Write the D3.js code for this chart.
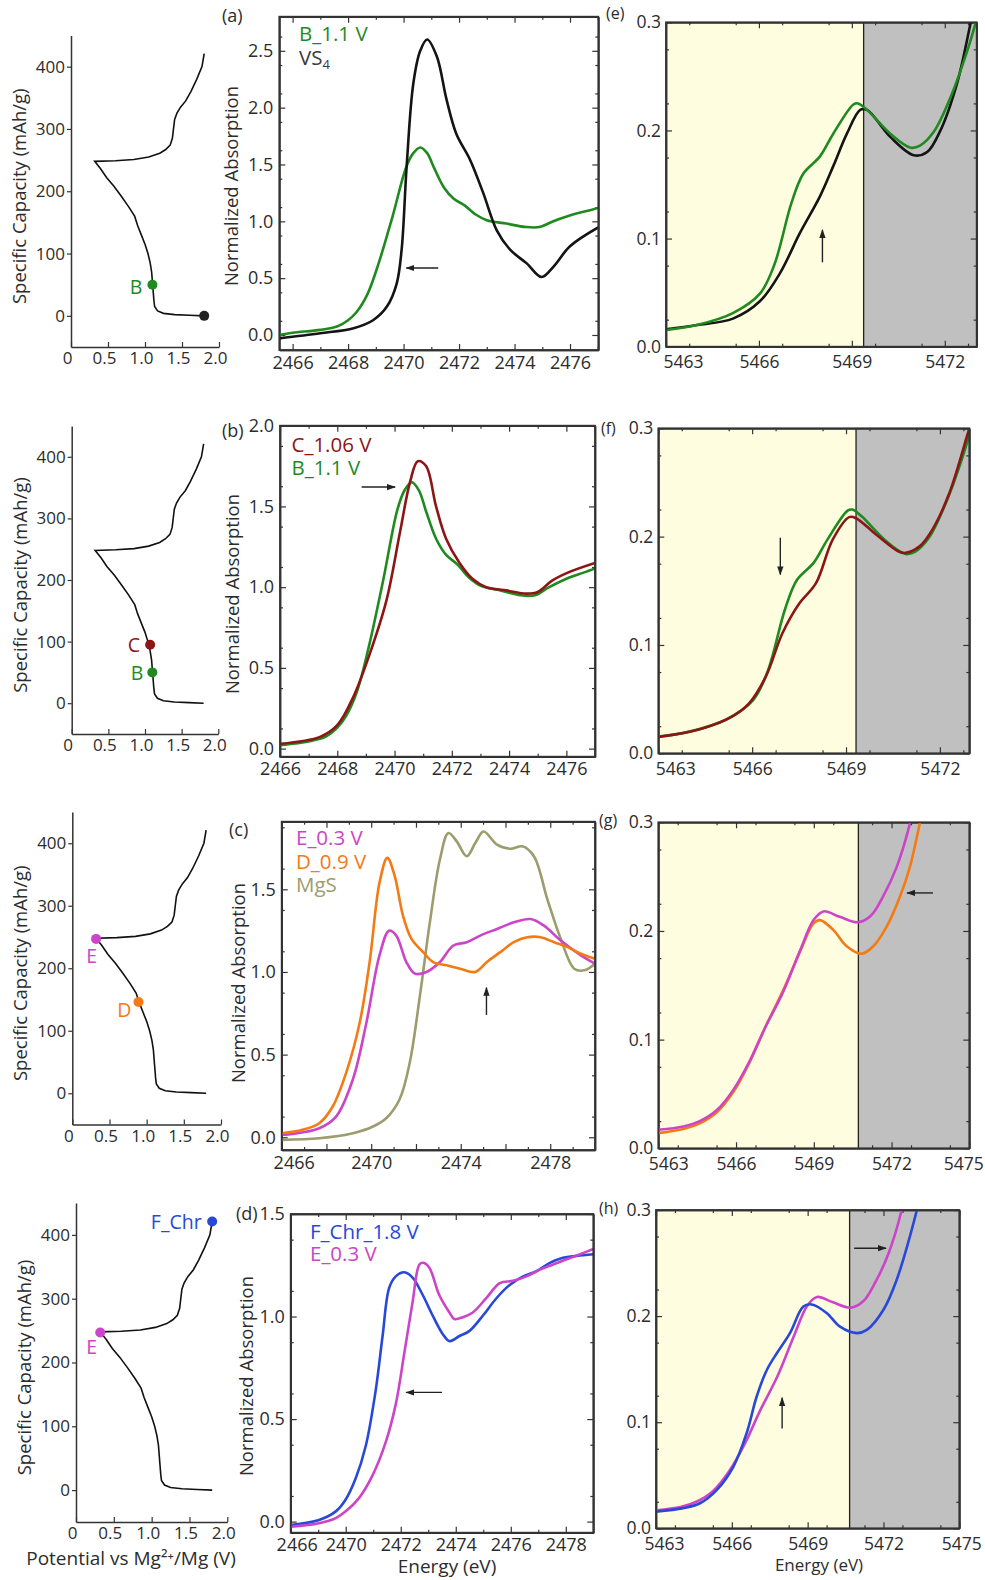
<!DOCTYPE html>
<html lang="en">
<head>
<meta charset="UTF-8">
<title>VS4 S K-edge and V K-edge XANES</title>
<script src="https://d3js.org/d3.v7.min.js"></script>
<style>
  body { margin: 0; background: #fff; }
  text { font-family: "Open Sans", "DejaVu Sans", sans-serif; }
</style>
</head>
<body>
<div id="chart"></div>
<script>
// ---------- data ----------
// discharge / charge cycle (potential V, capacity mAh/g)
const cyclePotential = [1.80, 1.60, 1.40, 1.25, 1.17, 1.13, 1.12, 1.11, 1.10, 1.09, 1.07, 1.04, 1.00, 0.95, 0.90, 0.86, 0.78, 0.68, 0.58, 0.48, 0.40, 0.32,
  0.60, 0.85, 1.05, 1.20, 1.28, 1.34, 1.37, 1.385, 1.40, 1.43, 1.48, 1.55, 1.62, 1.70, 1.77, 1.80];
const cycleCapacity = [0, 1, 2, 4, 8, 15, 25, 40, 55, 70, 85, 100, 115, 130, 145, 160, 175, 192, 208, 222, 236, 248,
  249, 251, 255, 261, 267, 274, 285, 300, 315, 325, 335, 345, 360, 380, 400, 421];

// sampled states on the cycle
const stateNames = ["pristine", "B", "C", "D", "E", "F_Chr"];
const statePotential = [1.80, 1.10, 1.07, 0.89, 0.32, 1.80];
const stateCapacity = [0, 50, 95, 146, 247, 421];

// S K-edge spectra [energy eV, normalized absorption]
const sVS4 = [[2465.5, -0.03], [2467.0, 0.015], [2468.2, 0.06], [2468.9, 0.13], [2469.4, 0.25], [2469.75, 0.45], [2469.93, 0.75],
  [2470.11, 1.48], [2470.35, 2.21], [2470.6, 2.50], [2470.85, 2.60], [2471.2, 2.45], [2471.55, 2.07], [2471.9, 1.77], [2472.4, 1.54],
  [2472.87, 1.25], [2473.36, 0.92], [2473.84, 0.75], [2474.44, 0.63], [2474.98, 0.51], [2475.4, 0.60], [2476.0, 0.78], [2477.05, 0.95]];
const sB = [[2465.5, 0.00], [2466.0, 0.02], [2467.0, 0.045], [2467.6, 0.075], [2468.0, 0.13], [2468.3, 0.20], [2468.7, 0.36],
  [2469.1, 0.63], [2469.6, 1.04], [2470.1, 1.48], [2470.35, 1.60], [2470.6, 1.65], [2470.85, 1.60], [2471.1, 1.47], [2471.45, 1.30],
  [2471.8, 1.20], [2472.2, 1.14], [2472.6, 1.06], [2473.0, 1.01], [2473.7, 0.98], [2474.4, 0.95], [2474.9, 0.95], [2475.4, 1.00],
  [2476.1, 1.06], [2476.6, 1.09], [2477.05, 1.12]];
const sC = [[2466.0, 0.03], [2467.4, 0.073], [2468.0, 0.145], [2468.56, 0.32], [2469.14, 0.59], [2469.72, 0.92], [2470.19, 1.34],
  [2470.54, 1.65], [2470.81, 1.78], [2471.1, 1.75], [2471.45, 1.50], [2471.8, 1.30], [2472.27, 1.15], [2472.73, 1.05], [2473.2, 1.0],
  [2473.9, 0.98], [2474.6, 0.96], [2475.0, 0.97], [2475.5, 1.04], [2476.05, 1.09], [2477.0, 1.15]];
const sD = [[2466.0, 0.024], [2466.93, 0.045], [2467.68, 0.085], [2468.28, 0.186], [2468.88, 0.39], [2469.48, 0.69], [2469.93, 1.06],
  [2470.37, 1.54], [2470.72, 1.69], [2471.05, 1.58], [2471.42, 1.34], [2471.8, 1.20], [2472.32, 1.12], [2472.77, 1.06], [2473.37, 1.04],
  [2473.97, 1.02], [2474.65, 1.0], [2475.17, 1.06], [2475.77, 1.12], [2476.37, 1.18], [2476.97, 1.21], [2477.57, 1.21], [2478.17, 1.18],
  [2478.77, 1.15], [2479.37, 1.11], [2480.0, 1.08]];
const sE = [[2466.0, 0.014], [2467.68, 0.055], [2468.43, 0.125], [2469.18, 0.35], [2469.78, 0.69], [2470.37, 1.10], [2470.8, 1.25],
  [2471.12, 1.22], [2471.57, 1.06], [2471.95, 0.99], [2472.47, 1.0], [2473.07, 1.06], [2473.67, 1.16], [2474.27, 1.18], [2474.87, 1.22],
  [2475.62, 1.26], [2476.37, 1.30], [2477.12, 1.32], [2477.72, 1.28], [2478.47, 1.19], [2479.37, 1.10], [2480.0, 1.05]];
const sMgS = [[2466.0, -0.016], [2467.68, -0.006], [2469.18, 0.024], [2470.08, 0.065], [2470.67, 0.115], [2471.27, 0.23], [2471.72, 0.45],
  [2472.17, 0.85], [2472.62, 1.30], [2473.07, 1.68], [2473.45, 1.84], [2473.82, 1.79], [2474.27, 1.70], [2474.65, 1.78], [2475.02, 1.85],
  [2475.62, 1.77], [2476.22, 1.745], [2476.75, 1.76], [2477.27, 1.70], [2477.87, 1.44], [2478.47, 1.20], [2479.07, 1.02], [2479.52, 1.01],
  [2480.0, 1.05]];
// panel (d) as drawn on its own axis
const sF_d = [[2468.0, -0.017], [2469.03, 0.008], [2469.64, 0.05], [2470.0, 0.108], [2470.36, 0.21], [2470.73, 0.37], [2471.09, 0.64],
  [2471.34, 0.905], [2471.58, 1.14], [2471.82, 1.196], [2472.13, 1.216], [2472.43, 1.19], [2472.8, 1.105], [2473.16, 1.005],
  [2473.53, 0.914], [2473.77, 0.88], [2474.14, 0.905], [2474.5, 0.93], [2474.99, 1.005], [2475.47, 1.088], [2475.96, 1.154],
  [2476.45, 1.196], [2476.93, 1.221], [2477.42, 1.262], [2477.9, 1.287], [2478.39, 1.296], [2479.0, 1.304]];
const sE_d = [[2468.0, -0.025], [2469.03, -0.008], [2469.64, 0.017], [2470.0, 0.05], [2470.49, 0.116], [2470.97, 0.224], [2471.46, 0.39],
  [2471.82, 0.573], [2472.13, 0.822], [2472.43, 1.07], [2472.68, 1.254], [2472.82, 1.262], [2473.04, 1.238], [2473.4, 1.105],
  [2473.77, 1.02], [2473.95, 0.988], [2474.26, 0.997], [2474.62, 1.02], [2475.1, 1.088], [2475.6, 1.163], [2476.08, 1.174],
  [2476.57, 1.196], [2477.06, 1.229], [2477.54, 1.254], [2478.03, 1.279], [2478.52, 1.304], [2479.0, 1.329]];

// V K-edge pre-edge spectra [energy eV, absorption]
const vVS4 = [[5463, 0.016], [5464, 0.02], [5465.16, 0.026], [5466.03, 0.042], [5466.68, 0.068], [5467.32, 0.105], [5467.97, 0.139],
  [5468.4, 0.167], [5468.84, 0.197], [5469.27, 0.219], [5469.49, 0.219], [5470.24, 0.194], [5471.0, 0.177], [5471.43, 0.180],
  [5471.86, 0.2], [5472.4, 0.244], [5472.84, 0.3], [5473.0, 0.32]];
const vB = [[5463, 0.0154], [5464, 0.02], [5465.16, 0.031], [5466.03, 0.049], [5466.5, 0.076], [5467.05, 0.133], [5467.43, 0.160],
  [5467.97, 0.176], [5468.4, 0.197], [5469.05, 0.224], [5469.2, 0.225], [5469.49, 0.219], [5470.24, 0.197], [5470.9, 0.184],
  [5471.2, 0.186], [5471.65, 0.199], [5472.19, 0.231], [5472.73, 0.274], [5473.0, 0.3]];
const vC = [[5463, 0.015], [5464.3, 0.022], [5465.37, 0.034], [5465.9, 0.046], [5466.44, 0.071], [5466.97, 0.111], [5467.5, 0.138],
  [5468.04, 0.157], [5468.57, 0.197], [5469.1, 0.218], [5469.32, 0.217], [5469.96, 0.202], [5470.7, 0.186], [5470.9, 0.185],
  [5471.35, 0.191], [5471.77, 0.207], [5472.3, 0.240], [5472.9, 0.296], [5473.0, 0.305]];
const vD = [[5463, 0.014], [5464, 0.018], [5464.6, 0.023], [5465.25, 0.033], [5465.9, 0.052], [5466.54, 0.080], [5467.18, 0.114],
  [5467.83, 0.146], [5468.47, 0.181], [5468.99, 0.207], [5469.24, 0.21], [5469.75, 0.201], [5470.27, 0.186], [5470.85, 0.179],
  [5471.3, 0.186], [5471.81, 0.204], [5472.33, 0.232], [5472.71, 0.259], [5473.1, 0.3], [5473.2, 0.31]];
const vE = [[5463, 0.017], [5463.97, 0.020], [5464.6, 0.025], [5465.25, 0.035], [5465.9, 0.054], [5466.54, 0.081], [5467.1, 0.11],
  [5467.8, 0.143], [5468.47, 0.182], [5468.99, 0.21], [5469.37, 0.218], [5470.0, 0.213], [5470.7, 0.208], [5471.2, 0.214],
  [5471.68, 0.232], [5472.2, 0.259], [5472.71, 0.299], [5472.8, 0.31]];
const vF = [[5463, 0.0157], [5464.08, 0.019], [5464.74, 0.0236], [5465.4, 0.036], [5466.06, 0.058], [5466.59, 0.09], [5466.98, 0.124],
  [5467.38, 0.149], [5467.78, 0.165], [5468.3, 0.184], [5468.83, 0.209], [5469.16, 0.211], [5469.75, 0.203], [5470.28, 0.19],
  [5470.94, 0.184], [5471.34, 0.187], [5472.0, 0.206], [5472.52, 0.234], [5473.32, 0.3], [5473.4, 0.31]];

// upper limit of the pre-edge (yellow) region, eV, panels e-h
const preEdgeLimit = [5469.38, 5469.32, 5470.72, 5470.66];

// ticks
const capTicksX = [0, 0.5, 1, 1.5, 2];
const capTickLabelsX = ["0", "0.5", "1.0", "1.5", "2.0"];
const capTicksY = [0, 100, 200, 300, 400];
const sTicksXab = [2466, 2468, 2470, 2472, 2474, 2476];
const sTicksXc = [2466, 2468, 2470, 2472, 2474, 2476, 2478];
const sTickLabelsXc = ["2466", "", "2470", "", "2474", "", "2478"];
const sTicksXd = [2468, 2470, 2472, 2474, 2476, 2478];
const sTickLabelsXd = ["2466", "2470", "2472", "2474", "2476", "2478"];
const sTicksYa = [0, 0.5, 1.0, 1.5, 2.0, 2.5];
const sTicksYb = [0, 0.5, 1.0, 1.5, 2.0];
const sTicksYcd = [0, 0.5, 1.0, 1.5];
const vTicksXef = [5463, 5466, 5469, 5472];
const vTicksXgh = [5463, 5466, 5469, 5472, 5475];
const vTicksY = [0, 0.1, 0.2, 0.3];

// ---------- drawing ----------
const col = {
  black: "#141414", green: "#1f8a1f", red: "#8c1616", magenta: "#cc44c8",
  orange: "#f47a14", olive: "#9c9c6c", blue: "#2848d8", text: "#2c2c2c"
};

const svg = d3.select("#chart").append("svg").attr("width", 985).attr("height", 1580);
const defs = svg.append("defs");
defs.append("marker").attr("id", "head").attr("viewBox", "0 0 10 10")
  .attr("refX", 9).attr("refY", 5).attr("markerWidth", 9).attr("markerHeight", 9)
  .attr("markerUnits", "userSpaceOnUse").attr("orient", "auto")
  .append("path").attr("d", "M0,1.5 L10,5 L0,8.5 Z").attr("fill", "#222");

function styleAxis(sel, size) {
  sel.attr("font-size", size || 16).attr("font-family", '"Open Sans", sans-serif');
  sel.selectAll("line").attr("stroke", "#333").attr("stroke-width", 1.2);
  sel.selectAll("path.domain").attr("stroke", "#333").attr("stroke-width", 1.5);
  sel.selectAll("text").attr("fill", col.text);
}

function text(x, y, s, opt) {
  opt = opt || {};
  return svg.append("text").attr("x", x).attr("y", y).text(s)
    .attr("font-size", opt.size || 16).attr("fill", opt.color || col.text)
    .attr("text-anchor", opt.anchor || "start");
}

function vtext(x, y, s, size) {
  return svg.append("text").attr("transform", `translate(${x},${y}) rotate(-90)`)
    .attr("text-anchor", "middle").attr("dominant-baseline", "middle")
    .attr("font-size", size).attr("fill", col.text).text(s);
}

// left column: capacity vs potential
function capacityPanel(box, marks) {
  const x = d3.scaleLinear().domain([0, 2]).range([box.x0, box.x1]);
  const y = d3.scaleLinear().domain([-50, 450]).range([box.yb, box.yt]);
  svg.append("g").attr("transform", `translate(0,${box.yb})`)
    .call(d3.axisBottom(x).tickValues(capTicksX).tickSize(-5).tickSizeOuter(0).tickPadding(5)
      .tickFormat((d, i) => capTickLabelsX[i]))
    .call(s => styleAxis(s, 17))
    .selectAll(".tick text").attr("dx", -4);
  svg.append("g").attr("transform", `translate(${box.x0},0)`)
    .call(d3.axisLeft(y).tickValues(capTicksY).tickSize(4).tickSizeOuter(0).tickPadding(2))
    .call(s => styleAxis(s, 17));
  vtext(box.x0 - 50, (box.yb + box.yt) / 2 + 5, "Specific Capacity (mAh/g)", 18.5);
  svg.append("path").datum(d3.zip(cyclePotential, cycleCapacity))
    .attr("fill", "none").attr("stroke", "#111").attr("stroke-width", 1.6)
    .attr("d", d3.line().x(d => x(d[0])).y(d => y(d[1])));
  marks.forEach(m => {
    const i = stateNames.indexOf(m.name);
    const cx = x(statePotential[i]), cy = y(stateCapacity[i]);
    svg.append("circle").attr("cx", cx).attr("cy", cy).attr("r", 5).attr("fill", m.color);
    if (m.label) text(cx + m.dx, cy + m.dy, m.label, { color: m.color, size: 19.5, anchor: "end" });
  });
}

// framed spectrum panel (middle and right columns)
function framePanel(p) {
  const x = d3.scaleLinear().domain(p.xd).range([p.l, p.r]);
  const y = d3.scaleLinear().domain(p.yd).range([p.b, p.t]);
  const id = "clip" + p.tag;
  defs.append("clipPath").attr("id", id).append("rect")
    .attr("x", p.l).attr("y", p.t).attr("width", p.r - p.l).attr("height", p.b - p.t);

  if (p.limit !== undefined) {
    svg.append("rect").attr("x", p.l).attr("y", p.t).attr("width", x(p.limit) - p.l).attr("height", p.b - p.t)
      .attr("fill", "#fffddf");
    svg.append("rect").attr("x", x(p.limit)).attr("y", p.t).attr("width", p.r - x(p.limit)).attr("height", p.b - p.t)
      .attr("fill", "#c0c0c0");
    svg.append("line").attr("x1", x(p.limit)).attr("x2", x(p.limit)).attr("y1", p.t).attr("y2", p.b)
      .attr("stroke", "#222").attr("stroke-width", 1.3);
  }

  // major ticks on all four sides, labels bottom and left
  const lab = p.xLabels ? (d, i) => p.xLabels[i] : p.xFmt;
  const bx = svg.append("g").attr("transform", `translate(0,${p.b})`)
    .call(d3.axisBottom(x).tickValues(p.xt).tickSize(-6).tickSizeOuter(0).tickPadding(p.xPad).tickFormat(lab))
    .call(s => styleAxis(s, p.fs));
  const bt = bx.selectAll(".tick text");
  if (p.firstDx) d3.select(bt.nodes()[0]).attr("dx", p.firstDx);
  if (p.lastDx) d3.select(bt.nodes()[bt.size() - 1]).attr("dx", p.lastDx);
  svg.append("g").attr("transform", `translate(0,${p.t})`)
    .call(d3.axisTop(x).tickValues(p.xt).tickSize(-6).tickSizeOuter(0).tickFormat(""))
    .call(styleAxis);
  svg.append("g").attr("transform", `translate(${p.l},0)`)
    .call(d3.axisLeft(y).tickValues(p.yt).tickSize(-6).tickSizeOuter(0).tickPadding(p.yPad).tickFormat(d3.format(".1f")))
    .call(s => styleAxis(s, p.fs));
  svg.append("g").attr("transform", `translate(${p.r},0)`)
    .call(d3.axisRight(y).tickValues(p.yt).tickSize(-6).tickSizeOuter(0).tickFormat(""))
    .call(styleAxis);
  // minor ticks
  const yMinor = d3.range(p.yt[0] + p.ym / 2, p.yd[1], p.ym);
  const xMinor = p.xm ? d3.range(p.xt[0] + p.xm / 2, p.xd[1], p.xm) : [];
  [[d3.axisBottom, p.b], [d3.axisTop, p.t]].forEach(([fn, pos]) =>
    svg.append("g").attr("transform", `translate(0,${pos})`)
      .call(fn(x).tickValues(xMinor).tickSize(-3).tickSizeOuter(0).tickFormat("")).call(styleAxis));
  [[d3.axisLeft, p.l], [d3.axisRight, p.r]].forEach(([fn, pos]) =>
    svg.append("g").attr("transform", `translate(${pos},0)`)
      .call(fn(y).tickValues(yMinor).tickSize(-3).tickSizeOuter(0).tickFormat("")).call(styleAxis));

  const line = d3.line().x(d => x(d[0])).y(d => y(d[1])).curve(d3.curveCatmullRom.alpha(0.5));
  const gl = svg.append("g").attr("clip-path", `url(#${id})`);
  p.series.forEach(s => gl.append("path").datum(s.data).attr("fill", "none")
    .attr("stroke", s.color).attr("stroke-width", 2.6).attr("stroke-linejoin", "round").attr("d", line));

  svg.append("rect")
    .attr("x", p.l).attr("y", p.t).attr("width", p.r - p.l).attr("height", p.b - p.t)
    .attr("fill", "none").attr("stroke", "#333").attr("stroke-width", 1.8);

  (p.arrows || []).forEach(a => svg.append("line")
    .attr("x1", x(a[0][0])).attr("y1", y(a[0][1])).attr("x2", x(a[1][0])).attr("y2", y(a[1][1]))
    .attr("stroke", "#222").attr("stroke-width", 1.4).attr("marker-end", "url(#head)"));

  text(p.letterX, p.letterY, p.letter, { size: p.letterSize });
}

// ---- left column ----
capacityPanel({ x0: 71, x1: 219, yb: 347, yt: 35.5 }, [
  { name: "B", color: col.green, label: "B", dx: -10, dy: 9 },
  { name: "pristine", color: "#222" }
]);
capacityPanel({ x0: 71.7, x1: 218.3, yb: 734, yt: 426 }, [
  { name: "C", color: col.red, label: "C", dx: -10, dy: 7 },
  { name: "B", color: col.green, label: "B", dx: -9, dy: 8 }
]);
capacityPanel({ x0: 72.3, x1: 221, yb: 1124.5, yt: 812 }, [
  { name: "E", color: col.magenta, label: "E", dx: 1, dy: 24 },
  { name: "D", color: col.orange, label: "D", dx: -7, dy: 15 }
]);
capacityPanel({ x0: 76, x1: 227.3, yb: 1522, yt: 1203 }, [
  { name: "F_Chr", color: col.blue, label: "F_Chr", dx: -10.5, dy: 7.5 },
  { name: "E", color: col.magenta, label: "E", dx: -3, dy: 21 }
]);
text(131, 1565, "Potential vs Mg²⁺/Mg (V)", { size: 19, anchor: "middle" });

// ---- middle column: S K-edge ----
const sCommon = { fs: 18, xPad: 6, yPad: 6, xFmt: d3.format("d"), ym: 0.25, letterSize: 18 };
framePanel(Object.assign({}, sCommon, {
  tag: "a", l: 279.3, r: 598.3, t: 16.7, b: 350, xd: [2465.52, 2477.02], yd: [-0.132, 2.80],
  xt: sTicksXab, yt: sTicksYa, xm: 2,
  series: [{ data: sB, color: col.green }, { data: sVS4, color: col.black }],
  arrows: [[[2471.25, 0.59], [2470.1, 0.59]]], letter: "(a)", letterX: 222, letterY: 22
}));
framePanel(Object.assign({}, sCommon, {
  tag: "b", l: 280, r: 595, t: 425.7, b: 756.7, xd: [2466, 2477], yd: [-0.05, 2.0],
  xt: sTicksXab, yt: sTicksYb, xm: 2,
  series: [{ data: sB, color: col.green }, { data: sC, color: col.red }],
  arrows: [[[2468.85, 1.62], [2470.02, 1.62]]], letter: "(b)", letterX: 222, letterY: 437
}));
framePanel(Object.assign({}, sCommon, {
  tag: "c", l: 281.7, r: 595, t: 821.7, b: 1150, xd: [2466, 2480], yd: [-0.077, 1.909],
  xt: sTicksXc, xLabels: sTickLabelsXc, yt: sTicksYcd, xm: 2, firstDx: 12,
  series: [{ data: sMgS, color: col.olive }, { data: sE, color: col.magenta }, { data: sD, color: col.orange }],
  arrows: [[[2475.15, 0.74], [2475.15, 0.905]]], letter: "(c)", letterX: 229, letterY: 836
}));
framePanel(Object.assign({}, sCommon, {
  tag: "d", l: 290.7, r: 593.3, t: 1214, b: 1532.7, xd: [2468, 2479], yd: [-0.054, 1.5],
  xt: sTicksXd, xLabels: sTickLabelsXd, yt: sTicksYcd, xm: 2, firstDx: 6,
  series: [{ data: sF_d, color: col.blue }, { data: sE_d, color: col.magenta }],
  arrows: [[[2473.5, 0.63], [2472.2, 0.63]]], letter: "(d)", letterX: 236, letterY: 1220
}));
vtext(233, 186, "Normalized Absorption", 18.5);
vtext(234.5, 594, "Normalized Absorption", 18.5);
vtext(240, 983, "Normalized Absorption", 18.5);
vtext(248, 1376, "Normalized Absorption", 18.5);
text(447, 1573, "Energy (eV)", { size: 19, anchor: "middle" });

// legends
function legend(x, y0, step, items) {
  items.forEach((it, i) => {
    const t = text(x, y0 + i * step, it.name, { size: 20.5, color: it.color });
    if (it.sub) t.append("tspan").attr("font-size", 13).attr("dy", 4).text(it.sub);
  });
}
legend(299, 41, 24, [{ name: "B_1.1 V", color: col.green }, { name: "VS", sub: "4", color: "#3a3a3a" }]);
legend(291.5, 452, 23, [{ name: "C_1.06 V", color: col.red }, { name: "B_1.1 V", color: col.green }]);
legend(296, 845, 23.5, [{ name: "E_0.3 V", color: col.magenta }, { name: "D_0.9 V", color: col.orange }, { name: "MgS", color: col.olive }]);
legend(310, 1239, 22, [{ name: "F_Chr_1.8 V", color: col.blue }, { name: "E_0.3 V", color: col.magenta }]);

// ---- right column: V K-edge pre-edge ----
const vCommon = { fs: 17.5, xPad: 9, yPad: 5, xFmt: d3.format("d"), ym: 0.05, xm: 1.5, yd: [0, 0.3], yt: vTicksY, letterSize: 16 };
framePanel(Object.assign({}, vCommon, {
  tag: "e", l: 666, r: 976.7, t: 22.3, b: 346.7, xd: [5463, 5473.03], xt: vTicksXef, limit: preEdgeLimit[0], firstDx: 17,
  series: [{ data: vVS4, color: col.black }, { data: vB, color: col.green }],
  arrows: [[[5468.05, 0.078], [5468.05, 0.108]]], letter: "(e)", letterX: 606, letterY: 19
}));
framePanel(Object.assign({}, vCommon, {
  tag: "f", l: 658.3, r: 969.3, t: 428.3, b: 753.3, xd: [5463, 5472.94], xt: vTicksXef, limit: preEdgeLimit[1], firstDx: 17,
  series: [{ data: vB, color: col.green }, { data: vC, color: col.red }],
  arrows: [[[5466.9, 0.199], [5466.9, 0.165]]], letter: "(f)", letterX: 601, letterY: 434
}));
framePanel(Object.assign({}, vCommon, {
  tag: "g", l: 658.3, r: 969.3, t: 822.3, b: 1148.3, xd: [5463, 5475], xt: vTicksXgh, limit: preEdgeLimit[2], firstDx: 10, lastDx: -6,
  series: [{ data: vD, color: col.orange }, { data: vE, color: col.magenta }],
  arrows: [[[5473.6, 0.235], [5472.6, 0.235]]], letter: "(g)", letterX: 599, letterY: 826
}));
framePanel(Object.assign({}, vCommon, {
  tag: "h", l: 656, r: 959.3, t: 1210, b: 1528.3, xd: [5463, 5475], xt: vTicksXgh, limit: preEdgeLimit[3], firstDx: 8, lastDx: 2,
  series: [{ data: vE, color: col.magenta }, { data: vF, color: col.blue }],
  arrows: [[[5470.84, 0.264], [5472.1, 0.264]], [[5467.99, 0.094], [5467.99, 0.123]]],
  letter: "(h)", letterX: 599, letterY: 1214
}));
text(819, 1571, "Energy (eV)", { size: 17, anchor: "middle" });
</script>
</body>
</html>
